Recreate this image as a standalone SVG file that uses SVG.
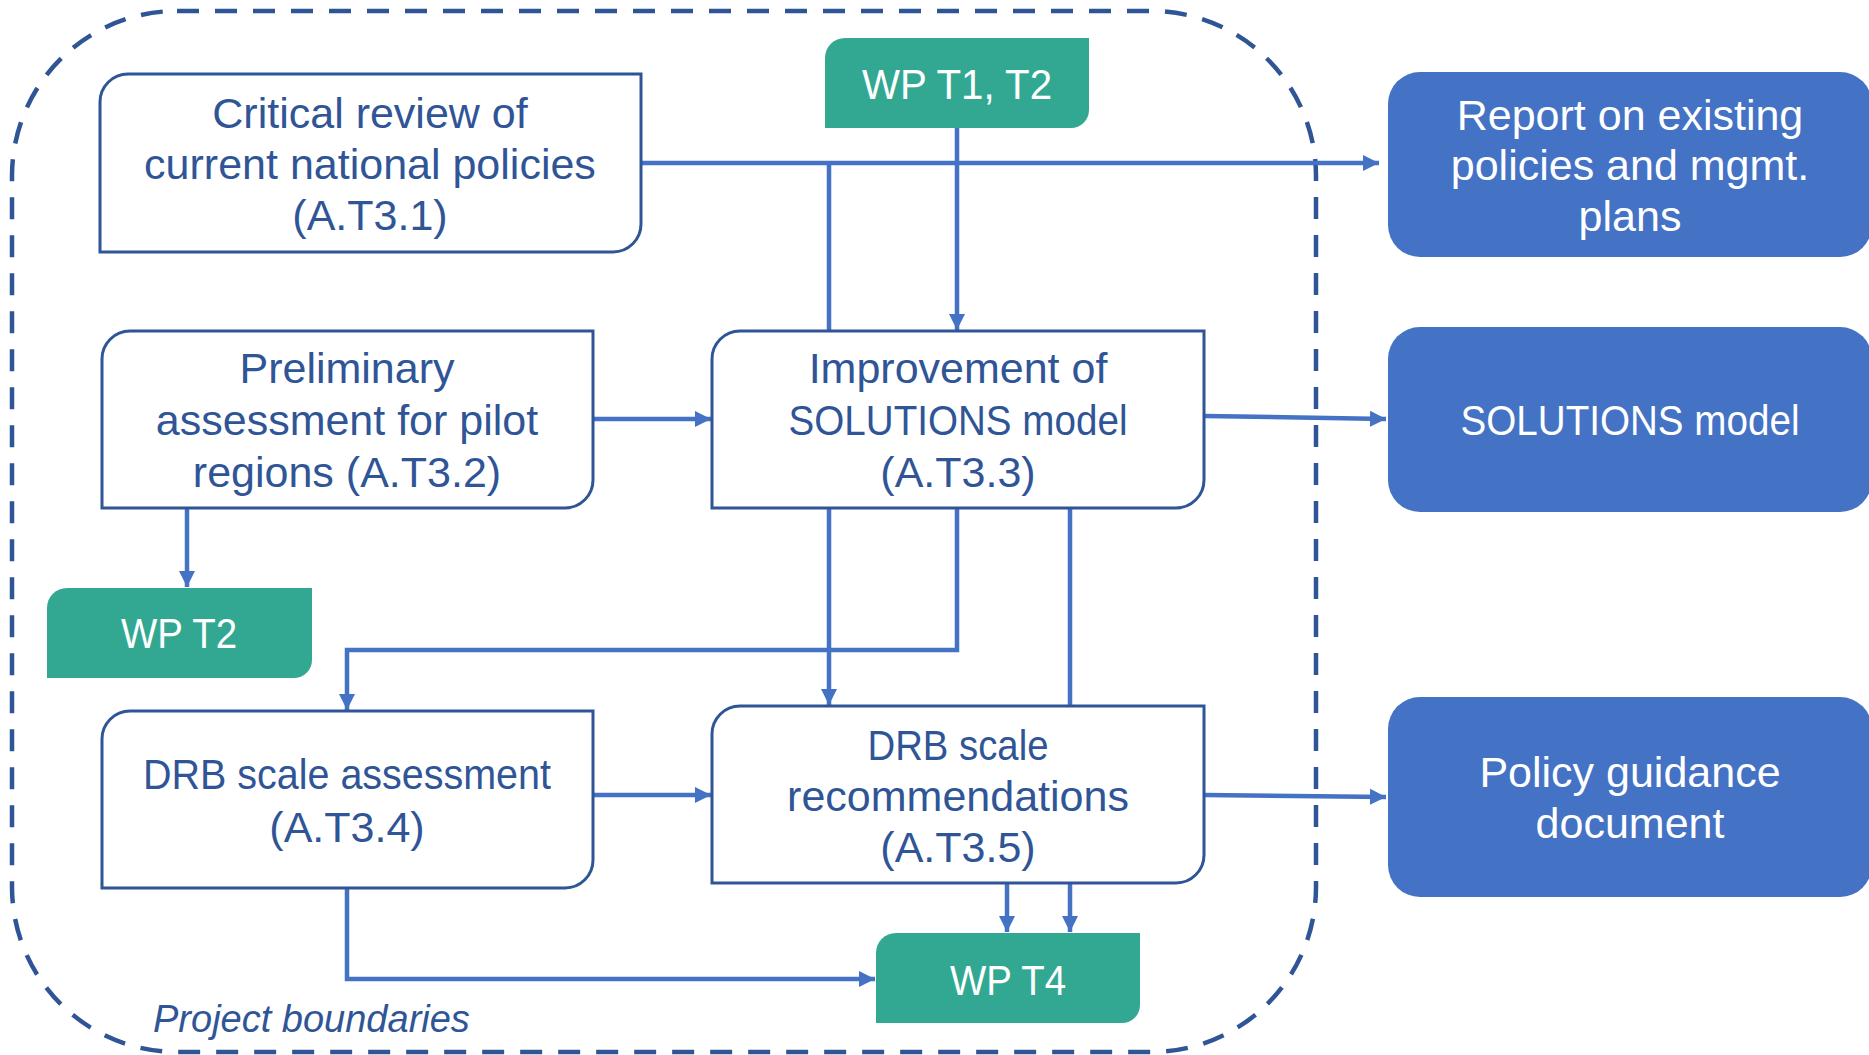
<svg xmlns="http://www.w3.org/2000/svg" width="1869" height="1055" viewBox="0 0 1869 1055">
<defs>
<style>
.boundary{fill:none;stroke:#2F5597;stroke-width:4.5;stroke-dasharray:22 16}
.task{fill:#FFFFFF;stroke:#2F5597;stroke-width:3}
.wp{fill:#32A893}
.out{fill:#4472C4}
.conn{fill:none;stroke:#4472C4;stroke-width:4.5}
.arr{marker-end:url(#ah)}
text{font-family:"Liberation Sans",Arial,sans-serif;font-size:43px;text-anchor:middle}
.tt{fill:#2F5597}
.wt{fill:#FFFFFF}
.lbl{font-style:italic;font-size:38px;fill:#2F5597;text-anchor:start}
</style>
<marker id="ah" markerUnits="userSpaceOnUse" markerWidth="17" markerHeight="17" refX="16" refY="8.5" orient="auto">
<path d="M0,0.5 L16,8.5 L0,16.5 Z" fill="#4472C4"/>
</marker>
</defs>
<rect x="0" y="0" width="1869" height="1055" fill="#FFFFFF"/>
<rect class="boundary" x="12" y="11" width="1304" height="1041" rx="165" ry="165"/>
<text class="lbl" x="153" y="1032">Project boundaries</text>

<g id="connectors">
<path class="conn arr" d="M641,163 H1379"/>
<path class="conn" d="M829,163 V331"/>
<path class="conn arr" d="M957,128 V330"/>
<path class="conn arr" d="M593,419 H711"/>
<path class="conn arr" d="M187,508 V587"/>
<path class="conn arr" d="M1204,416 L1386,419"/>
<path class="conn arr" d="M957,508 V650 H347 V710"/>
<path class="conn arr" d="M829,508 V705"/>
<path class="conn arr" d="M1070,508 V932"/>
<path class="conn arr" d="M1007,883 V932"/>
<path class="conn arr" d="M593,795 H711"/>
<path class="conn arr" d="M1204,795 L1386,797"/>
<path class="conn arr" d="M347,888 V979 H875"/>
</g>

<g id="critical-review">
<path class="task" d="M128,74 H641 V224 A28,28 0 0 1 613,252 H100 V102 A28,28 0 0 1 128,74 Z"/>
<text class="tt" x="370" y="128">Critical review of</text>
<text class="tt" x="370" y="179">current national policies</text>
<text class="tt" x="370" y="230">(A.T3.1)</text>
</g>

<g id="wp-t1-t2">
<path class="wp" d="M845,38 H1089 V110 A18,18 0 0 1 1071,128 H825 V58 A20,20 0 0 1 845,38 Z"/>
<text class="wt" x="957" y="99" textLength="190" lengthAdjust="spacingAndGlyphs">WP T1, T2</text>
</g>

<g id="preliminary">
<path class="task" d="M130,331 H593 V480 A28,28 0 0 1 565,508 H102 V359 A28,28 0 0 1 130,331 Z"/>
<text class="tt" x="347" y="383">Preliminary</text>
<text class="tt" x="347" y="435">assessment for pilot</text>
<text class="tt" x="347" y="487">regions (A.T3.2)</text>
</g>

<g id="improvement">
<path class="task" d="M740,331 H1204 V480 A28,28 0 0 1 1176,508 H712 V359 A28,28 0 0 1 740,331 Z"/>
<text class="tt" x="958" y="383">Improvement of</text>
<text class="tt" x="958" y="435" textLength="339" lengthAdjust="spacingAndGlyphs">SOLUTIONS model</text>
<text class="tt" x="958" y="487">(A.T3.3)</text>
</g>

<g id="wp-t2">
<path class="wp" d="M67,588 H312 V660 A18,18 0 0 1 294,678 H47 V608 A20,20 0 0 1 67,588 Z"/>
<text class="wt" x="179" y="648" textLength="116" lengthAdjust="spacingAndGlyphs">WP T2</text>
</g>

<g id="drb-assessment">
<path class="task" d="M130,711 H593 V860 A28,28 0 0 1 565,888 H102 V739 A28,28 0 0 1 130,711 Z"/>
<text class="tt" x="347" y="789" textLength="408" lengthAdjust="spacingAndGlyphs">DRB scale assessment</text>
<text class="tt" x="347" y="842">(A.T3.4)</text>
</g>

<g id="drb-recommendations">
<path class="task" d="M740,706 H1204 V855 A28,28 0 0 1 1176,883 H712 V734 A28,28 0 0 1 740,706 Z"/>
<text class="tt" x="958" y="760" textLength="181" lengthAdjust="spacingAndGlyphs">DRB scale</text>
<text class="tt" x="958" y="811">recommendations</text>
<text class="tt" x="958" y="862">(A.T3.5)</text>
</g>

<g id="wp-t4">
<path class="wp" d="M896,933 H1140 V1005 A18,18 0 0 1 1122,1023 H876 V953 A20,20 0 0 1 896,933 Z"/>
<text class="wt" x="1008" y="995" textLength="116" lengthAdjust="spacingAndGlyphs">WP T4</text>
</g>

<g id="report">
<rect class="out" x="1388" y="72" width="484" height="185" rx="32" ry="32"/>
<text class="wt" x="1630" y="130">Report on existing</text>
<text class="wt" x="1630" y="180">policies and mgmt.</text>
<text class="wt" x="1630" y="231">plans</text>
</g>

<g id="solutions-model">
<rect class="out" x="1388" y="327" width="484" height="185" rx="32" ry="32"/>
<text class="wt" x="1630" y="435" textLength="339" lengthAdjust="spacingAndGlyphs">SOLUTIONS model</text>
</g>

<g id="policy-guidance">
<rect class="out" x="1388" y="697" width="484" height="200" rx="32" ry="32"/>
<text class="wt" x="1630" y="787">Policy guidance</text>
<text class="wt" x="1630" y="838">document</text>
</g>
</svg>
